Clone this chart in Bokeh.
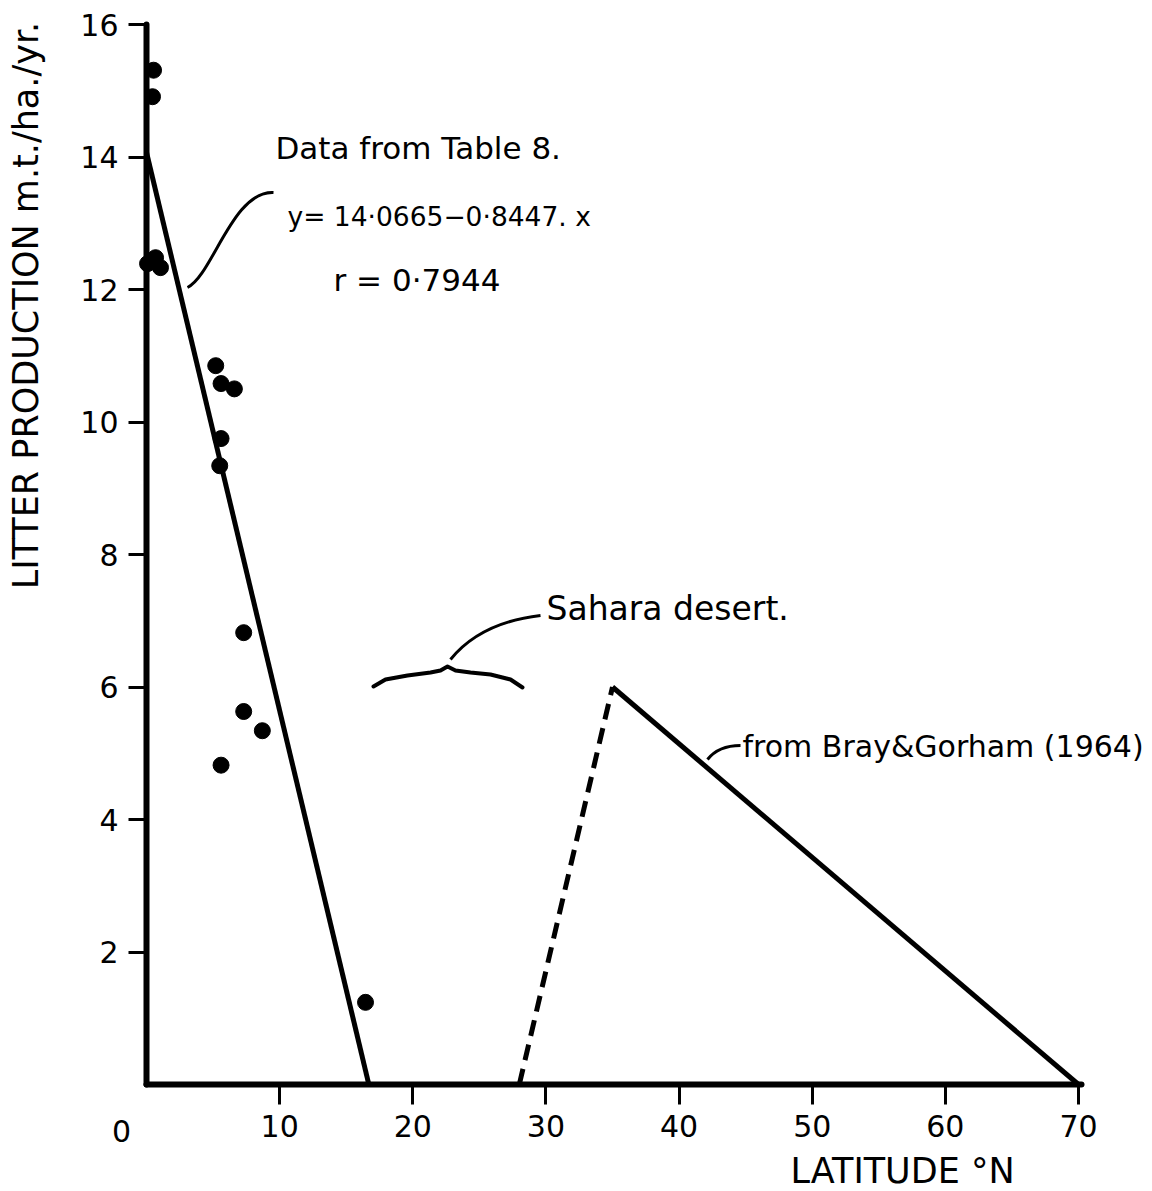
import numpy as np
from bokeh.plotting import figure
from bokeh.models import Label, FixedTicker, Range1d
from bokeh.embed import file_html
from bokeh.resources import INLINE

# ---- data ----
lat = [0.53, 0.45, 0.08, 0.68, 1.05, 5.2, 5.6, 6.6, 5.6, 5.5, 7.3, 7.3, 8.7, 5.6, 16.45]
litter = [15.31, 14.91, 12.39, 12.48, 12.33, 10.85, 10.58, 10.50, 9.75, 9.34, 6.82, 5.63, 5.34, 4.82, 1.24]

reg_x = [0.0, 16.7]          # y = 14.0665 - 0.8447 x
reg_y = [14.07, 0.0]
sahara_x = [28.0, 35.0]      # dashed rise
sahara_y = [0.0, 6.0]
bray_x = [35.0, 70.0]        # Bray & Gorham (1964)
bray_y = [6.0, 0.0]

x_ticks = [10, 20, 30, 40, 50, 60, 70]
y_ticks = [2, 4, 6, 8, 10, 12, 14, 16]

# ---- layout (pixel placement of the axes) ----
W, H = 1152, 1191
PX0, PX70 = 146, 1078      # pixel of x=0 and x=70
PY0, PY16 = 1084, 24       # pixel of y=0 and y=16
FONT = "DejaVu Sans"


def dx(px):
    return (px - PX0) / (PX70 - PX0) * 70.0


def dy(py):
    return (PY0 - py) / (PY0 - PY16) * 16.0


p = figure(width=W, height=H, x_range=Range1d(dx(0), dx(W)), y_range=Range1d(dy(H), dy(0)),
           output_backend="svg", toolbar_location=None,
           min_border_left=0, min_border_right=0, min_border_top=0, min_border_bottom=0)
p.background_fill_color = "white"
p.border_fill_color = "white"
p.outline_line_color = None
p.grid.visible = False

for ax, ticks, out, stand, bnds in ((p.xaxis, x_ticks, 20, 10, (0, 70.2)),
                                     (p.yaxis, y_ticks, 18, 10, (0, 16))):
    ax.fixed_location = 0
    ax.bounds = bnds
    ax.ticker = FixedTicker(ticks=ticks)
    ax.minor_tick_line_color = None
    ax.major_tick_in = 0
    ax.major_tick_out = out
    ax.major_tick_line_width = 3
    ax.major_tick_line_color = "black"
    ax.axis_line_width = 6
    ax.axis_line_color = "black"
    ax.axis_line_cap = "round"
    ax.major_label_text_font = FONT
    ax.major_label_text_font_size = "30px"
    ax.major_label_text_color = "black"
    ax.major_label_standoff = stand

# data
p.line(reg_x, reg_y, line_width=5, line_color="black")
p.line(sahara_x, sahara_y, line_width=5, line_color="black", line_dash="16 9")
p.line(bray_x, bray_y, line_width=5, line_color="black")
p.scatter(lat, litter, size=16, marker="circle", fill_color="black", line_color="black")

# leader lines (annotation decorations)
p.bezier(x0=[dx(273)], y0=[dy(192)], x1=[dx(187)], y1=[dy(287)],
         cx0=[dx(232)], cy0=[dy(190)], cx1=[dx(212)], cy1=[dy(275)],
         line_width=3, line_color="black")
p.quadratic(x0=[dx(540)], y0=[dy(615)], x1=[dx(450)], y1=[dy(659)],
            cx=[dx(480)], cy=[dy(622)], line_width=3, line_color="black")
brace_px = [(373, 686), (385, 679), (407, 675), (430, 672), (440, 670), (447, 666),
            (455, 670), (470, 672), (490, 674), (510, 679), (522, 687)]
p.line([dx(a) for a, b in brace_px], [dy(b) for a, b in brace_px], line_width=4,
       line_color="black", line_join="round", line_cap="round")
p.quadratic(x0=[dx(740)], y0=[dy(745)], x1=[dx(707)], y1=[dy(759)],
            cx=[dx(718)], cy=[dy(745)], line_width=3, line_color="black")


def lab(text, px, py, size="28px", align="left", angle=0.0):
    p.add_layout(Label(x=dx(px), y=dy(py), text=text, text_font=FONT, text_font_size=size,
                       text_color="black", text_align=align, text_baseline="middle",
                       angle=angle))


lab("Data from Table 8.", 275, 147, size="31px")
lab("y= 14·0665−0·8447. x", 287, 216, size="26.5px")
lab("r = 0·7944", 333, 279, size="31px")
lab("Sahara desert.", 546, 608, size="33px")
lab("from Bray&Gorham (1964)", 742, 746, size="30px")
lab("LATITUDE °N", 790, 1170, size="35px")
lab("0", 121, 1130, size="30px", align="center")
lab("LITTER PRODUCTION m.t./ha./yr.", 25, 305, size="35px", align="center", angle=np.pi / 2)

open("out.html", "w").write(file_html(p, INLINE))
